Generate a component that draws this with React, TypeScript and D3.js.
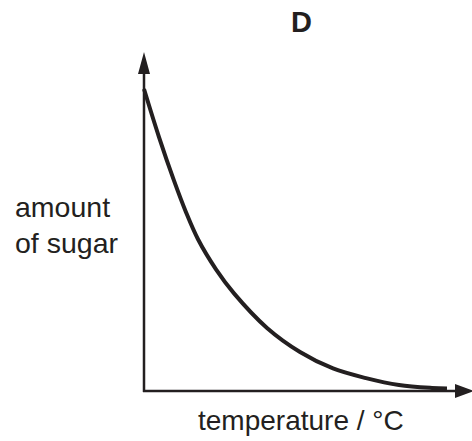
import { useRef, useEffect } from "react";
import * as d3 from "d3";

// (arbitrary units, no ticks on the original)
const temperature = [0, 5, 10, 14, 18, 24, 30, 41, 52, 63, 74, 85, 96, 101];
const sugar = [100, 84, 69.5, 59, 50, 40, 32, 20.5, 12.5, 7, 3.8, 1.5, 0.5, 0.3];

const title = "D";
const yLabel = ["amount", "of sugar"];
const xLabel = "temperature / °C";

const W = 472;
const H = 441;
const INK = "#231f20";
const FONT = "'Liberation Sans', Arial, Helvetica, sans-serif";

export default function App() {
  const svgRef = useRef<SVGSVGElement | null>(null);

  useEffect(() => {
    const svg = d3.select(svgRef.current);
    svg.selectAll("*").remove();

    const x0 = 144;
    const y0 = 391;

    const x = d3.scaleLinear().domain([0, 100]).range([x0, 444]);
    const y = d3.scaleLinear().domain([0, 100]).range([389.5, 89]);

    // axes with arrow heads
    svg
      .append("line")
      .attr("x1", x0)
      .attr("y1", y0 + 1)
      .attr("x2", x0)
      .attr("y2", 70)
      .attr("stroke", INK)
      .attr("stroke-width", 2.5);
    svg
      .append("path")
      .attr("d", `M${x0},52 L${x0 - 6},74 L${x0 + 6},74 Z`)
      .attr("fill", INK);

    svg
      .append("line")
      .attr("x1", x0 - 1)
      .attr("y1", y0)
      .attr("x2", 458)
      .attr("y2", y0)
      .attr("stroke", INK)
      .attr("stroke-width", 2.5);
    svg
      .append("path")
      .attr("d", `M474,${y0} L455,${y0 - 7} L455,${y0 + 7} Z`)
      .attr("fill", INK);

    // the curve
    const pts = temperature.map((t, i) => [t, sugar[i]] as [number, number]);
    const line = d3
      .line<[number, number]>()
      .x((d) => x(d[0]))
      .y((d) => y(d[1]))
      .curve(d3.curveCatmullRom.alpha(0.5));

    svg
      .append("path")
      .attr("d", line(pts))
      .attr("fill", "none")
      .attr("stroke", INK)
      .attr("stroke-width", 4);

    // text
    svg
      .append("text")
      .attr("x", 301.5)
      .attr("y", 32)
      .attr("text-anchor", "middle")
      .style("font-family", FONT)
      .style("font-size", "29px")
      .style("font-weight", "700")
      .attr("fill", INK)
      .text(title);

    yLabel.forEach((s, i) => {
      svg
        .append("text")
        .attr("x", 15)
        .attr("y", 217 + i * 36)
        .style("font-family", FONT)
        .style("font-size", "28.5px")
        .attr("fill", INK)
        .text(s);
    });

    svg
      .append("text")
      .attr("x", 198)
      .attr("y", 430)
      .style("font-family", FONT)
      .style("font-size", "28px")
      .attr("fill", INK)
      .text(xLabel);
  }, []);

  return (
    <svg
      ref={svgRef}
      width={W}
      height={H}
      style={{ position: "absolute", left: 0, top: 0, background: "#fff" }}
    />
  );
}
